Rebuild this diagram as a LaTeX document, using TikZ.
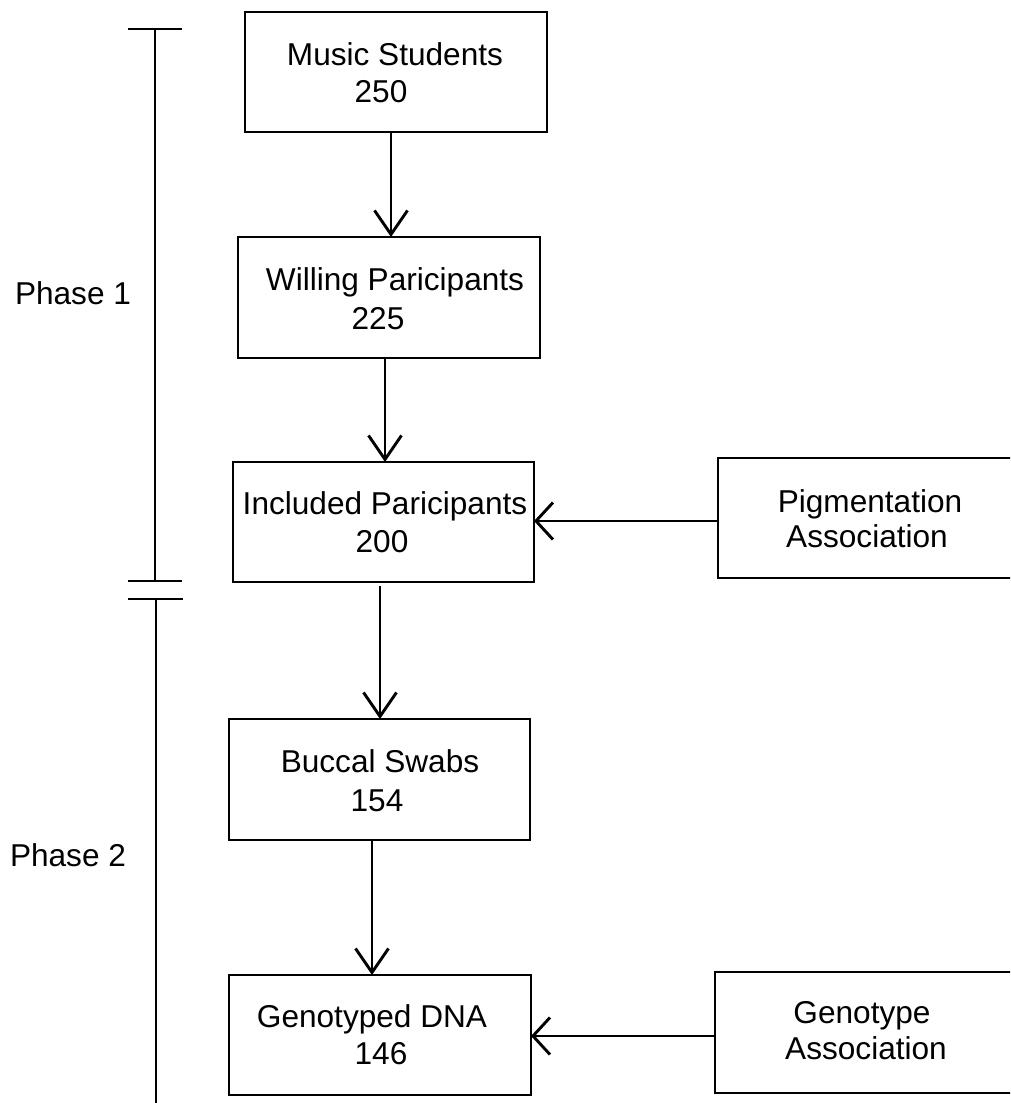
\documentclass[tikz,border=0pt]{standalone}
\usepackage{fontspec}
\setmainfont{Liberation Sans}
\usetikzlibrary{arrows.meta}
\begin{document}
\begin{tikzpicture}[x=1pt,y=-1pt,line width=2.9pt,
  box/.style={draw,rectangle,inner sep=0pt,outer sep=0pt},
  txt/.style={anchor=base,inner sep=0pt,font=\fontsize{31.6pt}{37pt}\selectfont},
  varr/.style={-{Straight Barb[length=24pt,width=33pt]}},
  harr/.style={-{Straight Barb[length=17pt,width=37pt]}}]
\useasboundingbox (0,0) rectangle (1010,1103);
\clip (0,0) rectangle (1010,1103);
% boxes
\node[box,minimum width=302pt,minimum height=120pt] (music) at (396,72) {};
\node[box,minimum width=302pt,minimum height=121pt] (willing) at (389,297.5) {};
\node[box,minimum width=301pt,minimum height=120pt] (incl) at (383.5,522) {};
\node[box,minimum width=294pt,minimum height=120pt] (pig) at (865,518) {};
\node[box,minimum width=301pt,minimum height=121pt] (buccal) at (379.5,779.5) {};
\node[box,minimum width=302pt,minimum height=120pt] (geno) at (380,1035) {};
\node[box,minimum width=297pt,minimum height=121pt] (ga) at (863.5,1032.5) {};
% texts
\node[txt] (music1) at (395,65) {Music Students};
\node[txt] (music2) at (381,102) {250};
\node[txt] (willing1) at (395,290) {Willing Paricipants};
\node[txt] (willing2) at (378,329) {225};
\node[txt] (incl1) at (385,514) {Included Paricipants};
\node[txt] (incl2) at (382,552) {200};
\node[txt] (pig1) at (870,512) {Pigmentation};
\node[txt] (pig2) at (867,547) {Association};
\node[txt] (buccal1) at (380,772) {Buccal Swabs};
\node[txt] (buccal2) at (377,811) {154};
\node[txt] (geno1) at (372,1027) {Genotyped DNA};
\node[txt] (geno2) at (381,1064) {146};
\node[txt] (ga1) at (862,1023) {Genotype};
\node[txt] (ga2) at (866,1059) {Association};
\node[txt] (phase1) at (73,304) {Phase 1};
\node[txt] (phase2) at (68,866) {Phase 2};
% connector columns / rows
\coordinate (c1) at (391,0);
\coordinate (c2) at (385,0);
\coordinate (c3) at (380,0);
\coordinate (c4) at (372,0);
\coordinate (r1) at (0,521);
\coordinate (r2) at (0,1036);
\draw[varr] (music.south -| c1) -- (willing.north -| c1);
\draw[varr] (willing.south -| c2) -- (incl.north -| c2);
\draw[varr,shorten <=4pt] (incl.south -| c3) -- (buccal.north -| c3);
\draw[varr] (buccal.south -| c4) -- (geno.north -| c4);
\draw[harr] (pig.west |- r1) -- (incl.east |- r1);
\draw[harr] (ga.west |- r2) -- (geno.east |- r2);
% phase brackets
\draw (128,29) -- (182,29);
\draw (155,29) -- (155,581);
\draw (128,581) -- (182,581);
\draw (128,599) -- (183,599);
\draw (156,599) -- (156,1110);
\end{tikzpicture}
\end{document}
